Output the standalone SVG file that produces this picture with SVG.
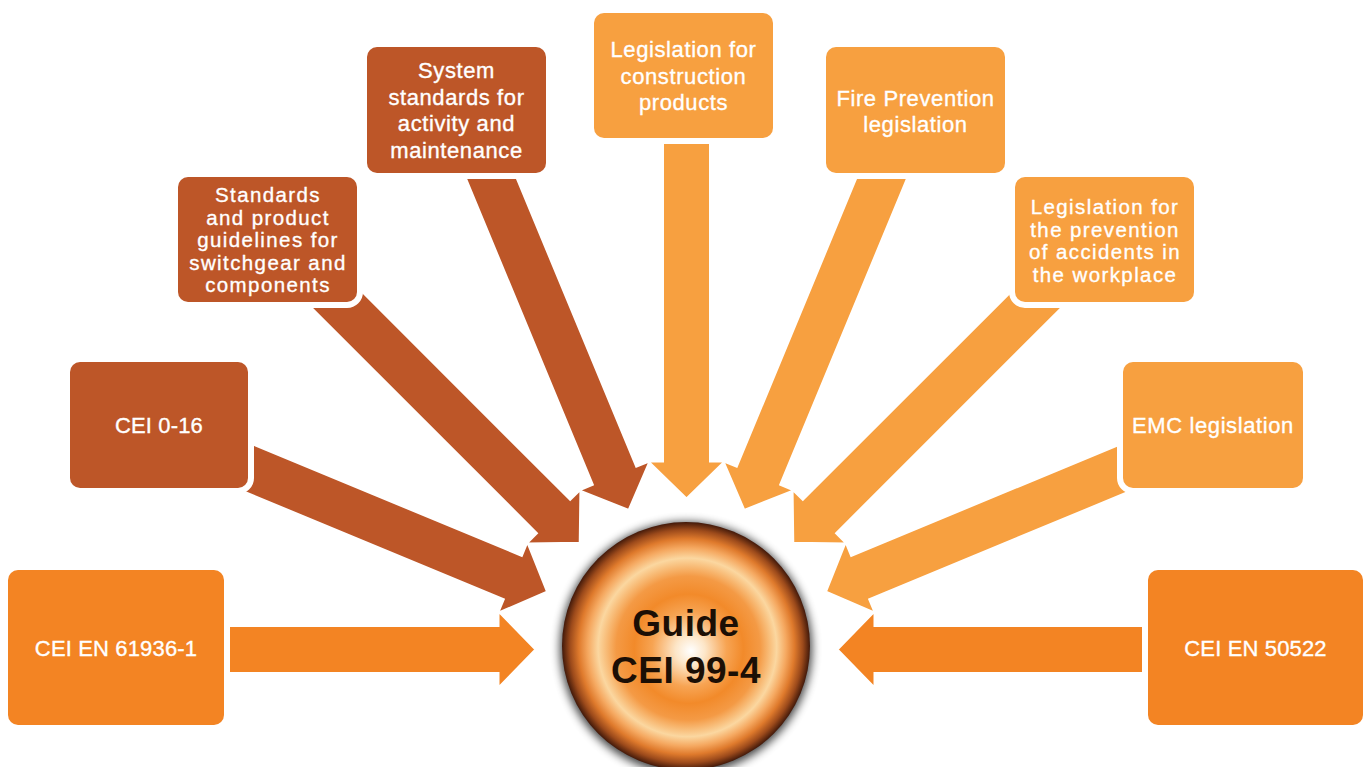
<svg xmlns="http://www.w3.org/2000/svg" width="1366" height="767" viewBox="0 0 1366 767">
<defs>
<style>
.rust{fill:#bd5628}
.light{fill:#f7a040}
.bright{fill:#f38423}
.arrow{stroke:#ffffff;stroke-width:2;stroke-linejoin:miter}
.box{stroke:#ffffff;stroke-width:12;paint-order:stroke}
.lbl{font-family:"Liberation Sans",Arial,sans-serif;font-size:22px;fill:#ffffff;stroke:#ffffff;stroke-width:0.35;text-anchor:middle;letter-spacing:0.6px}
.lbl1{letter-spacing:0.15px}
.dense{font-size:20.5px;letter-spacing:1.4px}
.hub{font-family:"Liberation Sans",Arial,sans-serif;font-weight:bold;font-size:37px;fill:#1c0f05;text-anchor:middle;letter-spacing:0.5px}
</style>
<radialGradient id="hubGrad" cx="0.5" cy="0.5" r="0.5" fx="0.52" fy="0.52">
<stop offset="0" stop-color="#ffffff"/>
<stop offset="0.12" stop-color="#fde6c8"/>
<stop offset="0.3" stop-color="#f7a453"/>
<stop offset="0.44" stop-color="#f28a2a"/>
<stop offset="0.58" stop-color="#f49a45"/>
<stop offset="0.72" stop-color="#fbd7a0"/>
<stop offset="0.8" stop-color="#f5a860"/>
<stop offset="0.87" stop-color="#df7a2c"/>
<stop offset="0.94" stop-color="#9c4a1b"/>
<stop offset="1" stop-color="#42190a"/>
</radialGradient>
<filter id="shadow" x="-20%" y="-20%" width="140%" height="140%">
<feGaussianBlur stdDeviation="5"/>
</filter>
</defs>
<rect width="1366" height="767" fill="#ffffff"/>

<g id="connectors">
<path class="arrow bright" transform="translate(686.5,649.5) rotate(0)" d="M-470,-23.5 L-188,-23.5 L-188,-38 L-151,0 L-188,38 L-188,23.5 L-470,23.5 Z"/>
<path class="arrow rust" transform="translate(686.5,649.5) rotate(22.5)" d="M-495,-23.5 L-188,-23.5 L-188,-38 L-151,0 L-188,38 L-188,23.5 L-495,23.5 Z"/>
<path class="arrow rust" transform="translate(686.5,649.5) rotate(45)" d="M-525,-23.5 L-188,-23.5 L-188,-38 L-151,0 L-188,38 L-188,23.5 L-525,23.5 Z"/>
<path class="arrow rust" transform="translate(686.5,649.5) rotate(67.5)" d="M-540,-23.5 L-188,-23.5 L-188,-38 L-151,0 L-188,38 L-188,23.5 L-540,23.5 Z"/>
<path class="arrow light" transform="translate(686.5,649.5) rotate(90)" d="M-520,-23.5 L-188,-23.5 L-188,-38 L-151,0 L-188,38 L-188,23.5 L-520,23.5 Z"/>
<path class="arrow light" transform="translate(686.5,649.5) rotate(112.5)" d="M-540,-23.5 L-188,-23.5 L-188,-38 L-151,0 L-188,38 L-188,23.5 L-540,23.5 Z"/>
<path class="arrow light" transform="translate(686.5,649.5) rotate(135)" d="M-525,-23.5 L-188,-23.5 L-188,-38 L-151,0 L-188,38 L-188,23.5 L-525,23.5 Z"/>
<path class="arrow light" transform="translate(686.5,649.5) rotate(157.5)" d="M-495,-23.5 L-188,-23.5 L-188,-38 L-151,0 L-188,38 L-188,23.5 L-495,23.5 Z"/>
<path class="arrow bright" transform="translate(686.5,649.5) rotate(180)" d="M-470,-23.5 L-188,-23.5 L-188,-38 L-151,0 L-188,38 L-188,23.5 L-470,23.5 Z"/>
</g>

<g id="hub">
<circle cx="686" cy="648" r="126" fill="#000000" opacity="0.75" filter="url(#shadow)"/>
<circle cx="686" cy="646" r="124" fill="url(#hubGrad)"/>
<text class="hub" x="686" y="636">Guide</text>
<text class="hub" x="686" y="683">CEI 99-4</text>
</g>

<g id="node-cei-en-61936-1">
<rect class="box bright" x="8" y="570" width="216" height="155" rx="10"/>
<text class="lbl lbl1" x="116" y="656">CEI EN 61936-1</text>
</g>

<g id="node-cei-0-16">
<rect class="box rust" x="70" y="362" width="178" height="126" rx="10"/>
<text class="lbl lbl1" x="159" y="433">CEI 0-16</text>
</g>

<g id="node-standards">
<rect class="box rust" x="178" y="177" width="179" height="125" rx="10"/>
<text class="lbl dense" x="268" y="202">Standards</text>
<text class="lbl dense" x="268" y="225">and product</text>
<text class="lbl dense" x="268" y="247">guidelines for</text>
<text class="lbl dense" x="268" y="270">switchgear and</text>
<text class="lbl dense" x="268" y="292">components</text>
</g>

<g id="node-system">
<rect class="box rust" x="367" y="47" width="179" height="126" rx="10"/>
<text class="lbl" x="456.5" y="78">System</text>
<text class="lbl" x="456.5" y="105">standards for</text>
<text class="lbl" x="456.5" y="131">activity and</text>
<text class="lbl" x="456.5" y="158">maintenance</text>
</g>

<g id="node-construction">
<rect class="box light" x="594" y="13" width="179" height="125" rx="10"/>
<text class="lbl" x="683.5" y="57">Legislation for</text>
<text class="lbl" x="683.5" y="84">construction</text>
<text class="lbl" x="683.5" y="110">products</text>
</g>

<g id="node-fire">
<rect class="box light" x="826" y="47" width="179" height="126" rx="10"/>
<text class="lbl" x="915.5" y="106">Fire Prevention</text>
<text class="lbl" x="915.5" y="132">legislation</text>
</g>

<g id="node-accidents">
<rect class="box light" x="1015" y="177" width="179" height="125" rx="10"/>
<text class="lbl dense" x="1105" y="214">Legislation for</text>
<text class="lbl dense" x="1105" y="237">the prevention</text>
<text class="lbl dense" x="1105" y="259">of accidents in</text>
<text class="lbl dense" x="1105" y="282">the workplace</text>
</g>

<g id="node-emc">
<rect class="box light" x="1123" y="362" width="180" height="126" rx="10"/>
<text class="lbl" x="1213" y="433">EMC legislation</text>
</g>

<g id="node-cei-en-50522">
<rect class="box bright" x="1148" y="570" width="215" height="155" rx="10"/>
<text class="lbl lbl1" x="1255.5" y="656">CEI EN 50522</text>
</g>
</svg>
